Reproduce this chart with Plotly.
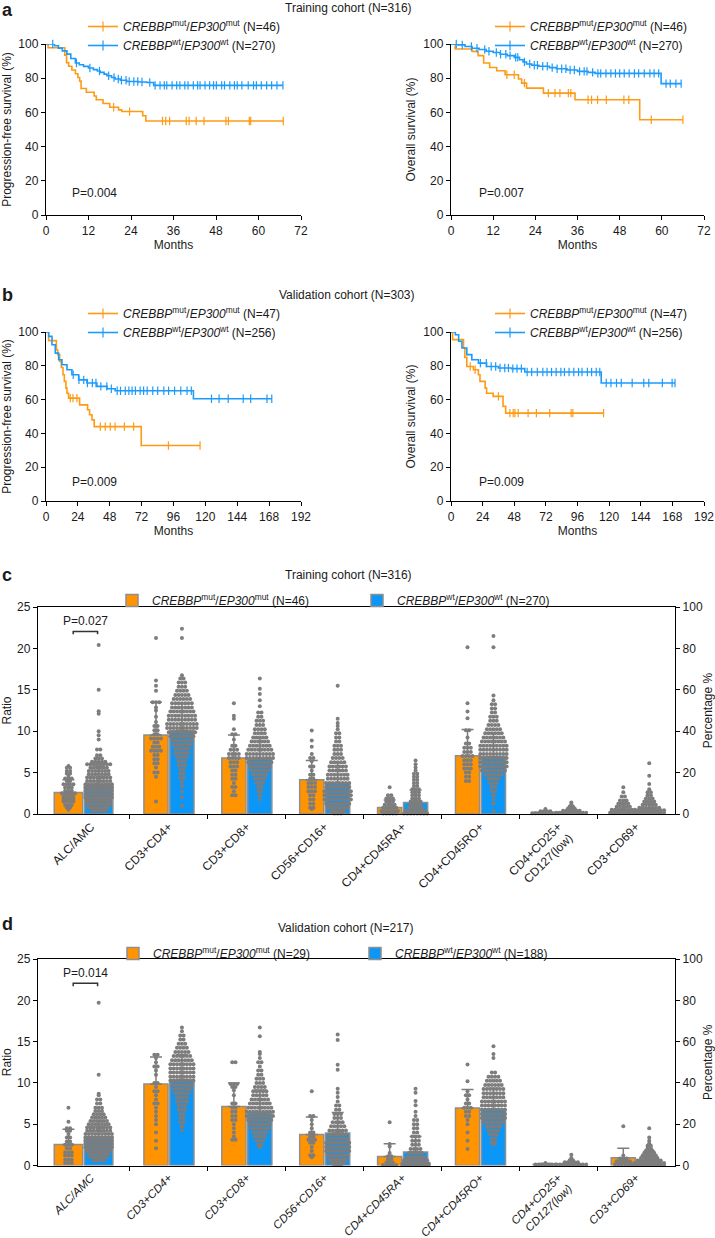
import plotly.graph_objects as go

W, H = 715, 1238
FONT = 'Liberation Sans, Arial, sans-serif'
INK = '#1a1a1a'
ORANGE = '#FF9A14'
BLUE = '#1C9BFB'
BAR_ORANGE = '#FF9300'
BAR_BLUE = '#0A97F7'
DOT = '#7d7d7d'
EDGE = '#8f8f8f'
UNIT = 77.9  # px per category on the bar panels


def px(x):
    return x / W


def py(y):
    return 1 - y / H


# ---------------- Kaplan-Meier data (months, % surviving) ----------------
month_ticks_a = [0, 12, 24, 36, 48, 60, 72]
month_ticks_b = [0, 24, 48, 72, 96, 120, 144, 168, 192]
surv_ticks = [0, 20, 40, 60, 80, 100]

# a, PFS training
a_pfs_mut_t = [0, 0.6, 5.3, 5.8, 6.4, 7.3, 8.3, 9.0, 9.5, 9.9, 11.4, 13.6, 14.2, 16.1, 18.0, 20.5, 21.4, 27.3, 28.2]
a_pfs_mut_s = [100, 97.8, 93.5, 89.1, 87.0, 84.8, 82.6, 80.4, 78.3, 74.0, 71.8, 69.6, 67.4, 65.2, 63.0, 61.5, 60.5, 58.0, 55.0]
a_pfs_mut_cens = [19.1, 23.6, 32.9, 33.8, 34.9, 39.6, 40.4, 42.4, 44.6, 50.8, 51.5, 57.4, 57.8, 67.0]
a_pfs_wt_t = [0, 2.4, 3.5, 4.6, 5.9, 7.0, 8.3, 9.4, 10.6, 12.0, 13.4, 14.5, 15.3, 16.4, 17.2, 18.5, 19.5, 21.0, 22.8, 26.0, 28.5, 30.4]
a_pfs_wt_s = [100, 99.0, 97.6, 96.0, 94.1, 91.5, 88.9, 87.9, 86.9, 86.0, 85.0, 84.2, 83.4, 82.4, 81.4, 80.4, 79.5, 78.8, 78.1, 77.8, 77.5, 75.8]
a_pfs_wt_cens = [1.9, 8.6, 12.4, 15.1, 17.7, 19.2, 20.4, 21.3, 22.6, 23.5, 24.8, 25.9, 27.1, 29.3, 30.8, 32.2,
                 33.4, 34.1, 35.6, 36.9, 37.8, 39.2, 40.1, 41.6, 42.8, 43.5, 44.9, 46.2, 47.3, 48.1, 49.6, 50.4,
                 51.9, 53.2, 54.0, 55.3, 57.1, 58.6, 59.4, 60.8, 62.3, 63.7, 65.2, 66.9]

# a, OS training
a_os_mut_t = [0, 1.2, 6.0, 7.7, 9.3, 11.0, 13.0, 15.4, 19.2, 20.1, 21.5, 26.3, 35.3, 53.7]
a_os_mut_s = [100, 97.1, 95.7, 93.2, 88.9, 86.3, 84.4, 82.0, 79.5, 77.1, 74.2, 71.3, 67.4, 55.7]
a_os_mut_cens = [15.9, 18.0, 20.9, 27.7, 29.6, 31.0, 33.4, 34.1, 39.0, 40.0, 41.7, 44.2, 49.2, 50.6, 57.0, 66.0]
a_os_wt_t = [0, 2, 4, 6, 8, 10, 12, 14, 16, 18, 19.5, 20.5, 21.5, 23, 25, 28, 30, 33, 36, 39, 41, 59.8]
a_os_wt_s = [100, 99.5, 98.5, 97.5, 96.8, 95.8, 95.0, 94.0, 93.2, 92.2, 90.8, 89.5, 88.3, 87.6, 87.0, 86.2,
             85.5, 84.8, 84.0, 83.4, 82.8, 76.8]
a_os_wt_cens = [1.5, 3.2, 5.8, 7.4, 9.6, 10.8, 12.9, 14.1, 15.6, 16.8, 18.4, 19.0, 20.9, 22.4, 23.7, 24.6,
                26.1, 27.4, 28.8, 30.2, 31.5, 32.7, 33.9, 35.1, 36.6, 37.9, 38.7, 40.3, 41.8, 42.6, 44.1,
                45.5, 46.8, 48.0, 49.3, 50.7, 52.2, 53.4, 55.0, 56.6, 57.8, 59.1, 61.2, 62.4, 64.0, 65.5]

# b, PFS validation
b_pfs_mut_t = [0, 2.0, 7.8, 8.8, 10.3, 11.5, 12.8, 13.8, 15.0, 15.8, 17.0, 25.3, 31.3, 32.8, 34.6, 36.3, 71.7]
b_pfs_mut_s = [100, 94.9, 89.5, 86.6, 82.6, 79.0, 74.7, 70.8, 66.8, 63.8, 60.9, 56.9, 54.0, 51.0, 48.0, 44.0, 32.8]
b_pfs_mut_cens = [18.3, 20.3, 23.3, 40.9, 44.6, 48.4, 52.0, 59.0, 66.0, 92.2, 116.0]
b_pfs_wt_t = [0, 2.0, 4.5, 7.0, 9.5, 12.0, 15.8, 19.5, 24.6, 30.8, 38.3, 45.9, 52.1, 111.0]
b_pfs_wt_s = [100, 97.4, 92.5, 87.5, 83.6, 80.6, 77.7, 74.7, 71.7, 69.8, 67.8, 66.4, 65.2, 60.5]
b_pfs_wt_cens = [20.5, 24.8, 28.4, 31.2, 34.9, 37.6, 41.3, 45.8, 49.2, 53.6, 56.1, 59.7, 62.4, 64.8, 67.3,
                 70.9, 73.5, 76.2, 80.4, 84.1, 88.7, 92.3, 96.8, 101.5, 106.2, 109.4, 124.6, 130.3, 137.2,
                 148.5, 154.1, 166.4, 170.0]

# b, OS validation
b_os_mut_t = [0, 1.2, 9.5, 10.5, 12.0, 17.0, 20.8, 22.0, 25.9, 27.0, 32.0, 39.5, 41.5]
b_os_mut_s = [100, 95.5, 90.5, 85.0, 79.6, 77.7, 74.7, 70.8, 66.8, 63.8, 61.9, 56.0, 52.0]
b_os_mut_cens = [14.6, 18.3, 36.0, 44.7, 47.2, 48.5, 51.0, 58.5, 64.8, 74.9, 91.2, 92.5, 115.8]
b_os_wt_t = [0, 3.3, 5.8, 8.3, 12.0, 15.8, 20.8, 27.0, 36.0, 46.0, 56.0, 114.0]
b_os_wt_s = [100, 98.4, 94.5, 90.5, 86.6, 83.6, 81.6, 79.6, 78.7, 78.3, 76.3, 69.8]
b_os_wt_cens = [22.3, 26.8, 30.5, 33.9, 37.2, 40.8, 43.6, 46.9, 50.1, 53.4, 57.8, 61.2, 65.5, 69.7, 72.9,
                76.3, 79.8, 83.4, 86.1, 89.6, 93.2, 96.8, 99.4, 103.5, 106.7, 110.2, 112.9, 117.8, 121.4,
                125.6, 129.2, 137.5, 146.3, 150.1, 160.4, 167.8, 170.0]

# ---------------- Bar panels (ALC/AMC in ratio, the rest in %) ----------------
cats = ['ALC/AMC', 'CD3+CD4+', 'CD3+CD8+', 'CD56+CD16+', 'CD4+CD45RA+', 'CD4+CD45RO+',
        'CD4+CD25+<br>CD127(low)', 'CD3+CD69+']
ratio_ticks = [0, 5, 10, 15, 20, 25]
pct_ticks = [0, 20, 40, 60, 80, 100]

c_mut_mean = [2.6, 38.2, 27.0, 16.6, 3.2, 28.2, 0.8, 1.6]
c_mut_sd = [1.55, 15.8, 11.2, 9.2, 3.6, 12.6, 0.6, 3.7]
c_wt_mean = [3.5, 40.3, 26.6, 14.8, 5.6, 27.7, 1.0, 1.9]
c_wt_sd = [2.3, 13.0, 10.0, 10.0, 6.0, 11.5, 1.2, 3.4]
d_mut_mean = [2.55, 39.5, 28.6, 15.0, 4.4, 27.8, 0.6, 3.7]
d_mut_sd = [1.85, 13.1, 11.4, 8.5, 6.1, 9.0, 0.4, 4.7]
d_wt_mean = [3.45, 41.6, 25.6, 15.7, 6.5, 27.4, 0.8, 2.8]
d_wt_sd = [2.0, 12.0, 11.0, 10.0, 7.5, 10.0, 1.0, 4.0]

# dot rows: level of each row and how many dots sit in it
c_mut_levels = [
    [5.8, 5.6, 5.2, 4.9, 4.6, 4.3, 4.0, 3.6, 3.2, 2.8, 2.5, 2.1, 1.8, 1.5, 1.1, 0.8, 0.5],
    [85, 64.5, 62, 59.5, 54, 51.5, 50, 47, 44.5, 42.5, 40.5, 38.5, 36.5, 34.5, 32.5, 30.5, 28.5, 26.5, 24.5, 22.5, 20, 18, 6],
    [53.5, 47.5, 46, 41, 38.5, 36, 33, 31, 29, 27, 25, 23, 21, 19, 17, 15, 13, 11, 9],
    [40.3, 35.5, 32.5, 29, 27, 25.5, 23, 21, 19, 17, 15, 13, 11, 9, 7, 5, 3, 2.4],
    [12.9, 9, 7.5, 6, 4.5, 3, 1.5, 0.3],
    [80.6, 53.5, 49.5, 46.3, 40.5, 37, 34, 32, 30, 28, 26, 24, 22, 20, 18, 16],
    [2.4, 1.3, 0.4],
    [12.9, 10.5, 8.5, 6.5, 5, 3.5, 2, 0.6]]
c_mut_counts = [
    [1, 2, 2, 2, 1, 3, 2, 4, 3, 3, 5, 4, 4, 4, 3, 2, 1],
    [1, 1, 1, 1, 3, 1, 1, 1, 1, 2, 2, 2, 4, 2, 3, 4, 2, 2, 2, 1, 2, 1, 1],
    [1, 1, 1, 1, 2, 1, 2, 3, 4, 4, 3, 3, 2, 2, 2, 1, 2, 1, 2],
    [1, 1, 1, 1, 2, 1, 2, 1, 2, 2, 3, 3, 3, 2, 2, 2, 2, 1],
    [1, 2, 3, 3, 4, 5, 6, 5],
    [1, 1, 1, 1, 2, 1, 2, 3, 3, 4, 3, 3, 3, 2, 2, 2],
    [1, 4, 9],
    [1, 1, 2, 3, 4, 5, 8, 9]]
c_wt_levels = [
    [20.4, 15.0, 12.4, 12.1, 10.0, 9.5, 9.0, 7.8, 7.1, 6.7, 6.3, 6.0, 5.6, 5.2, 4.8, 4.4, 4.0, 3.6, 3.2, 2.8, 2.4, 2.0, 1.6, 1.2, 0.8, 0.4],
    [89.5, 85, 67, 65.5, 63.5, 61.5, 59.5, 57.5, 55.5, 53.5, 51.5, 49.5, 47.5, 45.5, 43.5, 41.5, 39.5, 37.5, 35.5, 33.5, 31.5, 29.5, 27.5, 25.5, 23.5, 21.5, 19.5, 17.5, 15.5, 13.5, 11, 8, 4],
    [65.5, 60.5, 58, 55, 52, 49, 47, 45, 43, 41, 39, 37, 35, 33, 31, 29, 27, 25, 23, 21, 19, 17, 15, 13, 11, 9, 7],
    [62, 46, 44, 42.5, 41, 39, 37, 35, 33, 31, 29, 27, 25, 23, 21, 19, 17, 15, 13, 11, 9, 7, 5, 3, 1.5, 0.3],
    [25.8, 24, 22.5, 21, 19.5, 18, 16.5, 15, 13.5, 12, 10.5, 9, 7.5, 6, 4.5, 3, 1.5, 0.3],
    [86, 80.6, 57.3, 55, 53, 51, 49, 47, 45, 43, 41, 39, 37, 35, 33, 31, 29, 27, 25, 23, 21, 19, 17, 15, 13, 11, 9, 7, 5, 1.6],
    [5.6, 4.6, 3.6, 2.6, 1.6, 0.6],
    [24.5, 18.5, 14.5, 12, 10.5, 9, 7.5, 6, 4.5, 3, 1.8, 0.6]]
c_wt_counts = [
    [1, 1, 1, 1, 1, 1, 1, 2, 2, 3, 5, 8, 6, 7, 7, 8, 8, 9, 9, 9, 9, 9, 8, 8, 7, 5],
    [1, 1, 1, 2, 3, 3, 4, 5, 6, 7, 7, 8, 9, 9, 10, 10, 9, 8, 7, 6, 5, 5, 4, 3, 3, 2, 2, 2, 1, 1, 1, 1, 1],
    [1, 1, 1, 1, 1, 2, 2, 3, 3, 4, 4, 5, 6, 7, 8, 9, 9, 8, 7, 6, 5, 4, 3, 2, 2, 1, 1],
    [1, 1, 1, 1, 1, 2, 2, 2, 3, 3, 3, 4, 5, 6, 6, 7, 7, 8, 8, 9, 9, 9, 8, 7, 5, 3],
    [1, 1, 1, 1, 2, 2, 2, 2, 2, 3, 3, 3, 3, 4, 4, 5, 7, 8],
    [1, 1, 1, 1, 2, 2, 2, 3, 3, 4, 5, 6, 7, 8, 9, 9, 9, 9, 9, 9, 8, 6, 4, 3, 2, 2, 1, 1, 1, 1],
    [1, 1, 2, 3, 6, 10],
    [1, 1, 1, 1, 2, 2, 3, 4, 5, 7, 10, 10]]

d_mut_levels = [
    [7.0, 5.3, 4.5, 4.2, 3.8, 3.4, 2.9, 2.5, 2.1, 1.6, 1.2, 0.7, 0.3],
    [53.6, 52, 50, 48, 46, 44, 40, 38, 36, 34, 32, 30, 28, 26, 24, 22, 20, 16, 12, 8.4],
    [50, 39.5, 38, 36.5, 34, 30, 28, 26, 24, 22, 20, 18, 16, 14, 12.5],
    [36, 24, 22, 20, 18, 16, 14, 12.5, 11, 9, 7, 5, 4],
    [21, 10.4, 9.2, 6, 4.5, 3, 1.5, 0.3],
    [48.9, 40.8, 36, 34, 32, 30, 28, 26, 24, 22, 20, 16, 12, 8],
    [1.2, 0.5],
    [19, 4.8, 3.4, 2, 0.6]]
d_mut_counts = [
    [1, 1, 2, 2, 1, 2, 2, 3, 2, 3, 3, 3, 3],
    [2, 1, 1, 2, 1, 1, 2, 1, 2, 1, 1, 2, 1, 1, 1, 1, 1, 1, 1, 1],
    [2, 3, 2, 1, 1, 2, 2, 2, 2, 2, 1, 1, 1, 1, 2],
    [1, 2, 1, 1, 1, 2, 2, 3, 2, 1, 1, 2, 1],
    [1, 1, 1, 1, 2, 2, 3, 5],
    [1, 1, 1, 2, 1, 2, 3, 2, 2, 1, 1, 1, 1, 1],
    [1, 7],
    [1, 1, 3, 5, 6]]
d_wt_levels = [
    [19.7, 11.0, 8.7, 8.5, 8.0, 7.5, 7.0, 6.6, 6.2, 5.8, 5.4, 5.0, 4.6, 4.2, 3.8, 3.4, 3.0, 2.6, 2.2, 1.8, 1.4, 1.0, 0.6],
    [66.8, 65, 63, 61, 59, 57, 55, 53, 51, 49, 47, 45, 43, 41, 39, 37, 35, 33, 31, 29, 27, 25, 23, 21, 19, 17],
    [66.8, 62.6, 55, 54, 52, 50, 48, 46, 44, 42, 40, 38, 36, 34, 32, 30, 28, 26, 24, 22, 20, 18, 16, 14, 12, 10, 8.8],
    [63.4, 60.8, 48.8, 46.4, 37.2, 35.2, 33.2, 31, 29, 27, 25, 23, 21, 19, 17, 15, 13, 11, 9, 7, 5, 3, 1.5, 0.3],
    [37.2, 35.2, 31.2, 29.2, 26, 24, 22, 20, 18, 16, 14, 12, 10, 8, 6, 4, 2.5, 1, 0.2],
    [57.8, 54, 52, 45, 43, 41, 39, 37, 35, 33, 31, 29, 27, 25, 23, 21, 19, 17, 15, 13, 11, 10],
    [5.2, 3.6, 2.6, 1.6, 0.5],
    [18, 13.6, 12, 10.8, 9.6, 8.4, 7.2, 6, 4.8, 3.6, 2.4, 1.2, 0.3]]
d_wt_counts = [
    [1, 1, 1, 1, 2, 2, 3, 3, 4, 5, 6, 7, 8, 8, 9, 9, 9, 9, 9, 8, 7, 6, 4],
    [1, 1, 2, 2, 3, 4, 5, 6, 7, 8, 8, 8, 8, 8, 7, 6, 5, 4, 4, 3, 3, 2, 2, 2, 1, 1],
    [1, 1, 1, 1, 1, 2, 1, 2, 2, 3, 3, 4, 5, 5, 6, 7, 8, 9, 9, 8, 7, 6, 5, 4, 3, 2, 1],
    [1, 1, 1, 1, 1, 1, 1, 1, 2, 2, 3, 3, 4, 5, 6, 6, 7, 8, 8, 8, 7, 6, 5, 3],
    [1, 1, 1, 1, 1, 1, 2, 2, 2, 2, 3, 3, 3, 4, 5, 6, 8, 9, 9],
    [1, 1, 1, 2, 4, 5, 6, 7, 7, 7, 8, 8, 8, 8, 8, 7, 5, 4, 3, 2, 2, 1],
    [1, 1, 2, 5, 10],
    [1, 1, 1, 1, 2, 2, 3, 4, 5, 6, 8, 10, 10]]

MUT = '<i>CREBBP</i><sup>mut</sup>/<i>EP300</i><sup>mut</sup>'
WT = '<i>CREBBP</i><sup>wt</sup>/<i>EP300</i><sup>wt</sup>'

fig = go.Figure()


def surv_at(ts, ss, t):
    s = ss[0]
    for tt, v in zip(ts, ss):
        if tt <= t:
            s = v
    return s


def add_km(ts, ss, cens, color, xa, ya, name, legend):
    end = max(cens)
    fig.add_scatter(x=list(ts) + [end], y=list(ss) + [ss[-1]], mode='lines',
                    line=dict(color=color, width=1.6, shape='hv'), xaxis=xa, yaxis=ya,
                    showlegend=False, hoverinfo='skip', cliponaxis=False)
    fig.add_scatter(x=cens, y=[surv_at(ts, ss, c) for c in cens], mode='markers',
                    marker=dict(symbol='line-ns', size=6, line=dict(color=color, width=1.2)),
                    xaxis=xa, yaxis=ya, showlegend=False, hoverinfo='skip', cliponaxis=False)
    fig.add_scatter(x=[None], y=[None], mode='lines+markers', name=name, legend=legend,
                    line=dict(color=color, width=1.6),
                    marker=dict(symbol='line-ns', size=7, line=dict(color=color, width=1.2)),
                    xaxis=xa, yaxis=ya)


add_km(a_pfs_mut_t, a_pfs_mut_s, a_pfs_mut_cens, ORANGE, 'x', 'y', MUT + ' (N=46)', 'legend')
add_km(a_pfs_wt_t, a_pfs_wt_s, a_pfs_wt_cens, BLUE, 'x', 'y', WT + ' (N=270)', 'legend')
add_km(a_os_mut_t, a_os_mut_s, a_os_mut_cens, ORANGE, 'x2', 'y2', MUT + ' (N=46)', 'legend2')
add_km(a_os_wt_t, a_os_wt_s, a_os_wt_cens, BLUE, 'x2', 'y2', WT + ' (N=270)', 'legend2')
add_km(b_pfs_mut_t, b_pfs_mut_s, b_pfs_mut_cens, ORANGE, 'x3', 'y3', MUT + ' (N=47)', 'legend3')
add_km(b_pfs_wt_t, b_pfs_wt_s, b_pfs_wt_cens, BLUE, 'x3', 'y3', WT + ' (N=256)', 'legend3')
add_km(b_os_mut_t, b_os_mut_s, b_os_mut_cens, ORANGE, 'x4', 'y4', MUT + ' (N=47)', 'legend4')
add_km(b_os_wt_t, b_os_wt_s, b_os_wt_cens, BLUE, 'x4', 'y4', WT + ' (N=256)', 'legend4')


def swarm(levels, counts, xc, gap=3.3):
    xs, ys = [], []
    for lv, n in zip(levels, counts):
        for j in range(n):
            xs.append(xc + (j - (n - 1) / 2) * gap / UNIT)
            ys.append(lv)
    return xs, ys


def add_group(xa, yl, yr, means, sds, levels, counts, color, off_alc, off, w_alc, w, name, legend):
    xpos = [off_alc] + [i + off for i in range(1, 8)]
    edge = dict(color=EDGE, width=1.5)
    fig.add_bar(x=xpos[:1], y=means[:1], width=w_alc, marker=dict(color=color, line=edge),
                xaxis=xa, yaxis=yl, name=name, legend=legend, hoverinfo='skip')
    fig.add_bar(x=xpos[1:], y=means[1:], width=w, marker=dict(color=color, line=edge),
                xaxis=xa, yaxis=yr, showlegend=False, hoverinfo='skip')
    for i in range(8):
        xs, ys = swarm(levels[i], counts[i], xpos[i])
        fig.add_scatter(x=xs, y=ys, mode='markers', marker=dict(size=4, color=DOT),
                        xaxis=xa, yaxis=yl if i == 0 else yr, showlegend=False,
                        hoverinfo='skip', cliponaxis=False)
    err = dict(type='data', color=DOT, thickness=1.5, width=6)
    fig.add_scatter(x=xpos[:1], y=means[:1], mode='markers', marker=dict(size=1, color='rgba(0,0,0,0)'),
                    error_y=dict(array=sds[:1], arrayminus=[0], **err),
                    xaxis=xa, yaxis=yl, showlegend=False, hoverinfo='skip')
    fig.add_scatter(x=xpos[1:], y=means[1:], mode='markers', marker=dict(size=1, color='rgba(0,0,0,0)'),
                    error_y=dict(array=sds[1:], arrayminus=[0] * 7, **err),
                    xaxis=xa, yaxis=yr, showlegend=False, hoverinfo='skip')


add_group('x5', 'y5', 'y6', c_mut_mean, c_mut_sd, c_mut_levels, c_mut_counts, BAR_ORANGE,
          -0.288, -0.164, 0.365, 0.31, MUT + ' (N=46)', 'legend5')
add_group('x5', 'y5', 'y6', c_wt_mean, c_wt_sd, c_wt_levels, c_wt_counts, BAR_BLUE,
          0.10, 0.169, 0.365, 0.31, WT + ' (N=270)', 'legend6')
add_group('x7', 'y7', 'y8', d_mut_mean, d_mut_sd, d_mut_levels, d_mut_counts, BAR_ORANGE,
          -0.288, -0.164, 0.365, 0.31, MUT + ' (N=29)', 'legend7')
add_group('x7', 'y7', 'y8', d_wt_mean, d_wt_sd, d_wt_levels, d_wt_counts, BAR_BLUE,
          0.10, 0.169, 0.365, 0.31, WT + ' (N=188)', 'legend8')

line_style = dict(showline=True, linecolor='black', linewidth=1.4, ticks='outside', ticklen=4,
                  tickwidth=1.3, tickcolor='black', showgrid=False, zeroline=False, automargin=False,
                  tickfont=dict(size=12, color=INK))


def km_x(x0, x1, y_anchor, ticks):
    return dict(domain=[px(x0), px(x1)], anchor=y_anchor, range=[0, ticks[-1]], tickvals=ticks,
                title=dict(text='Months', standoff=3, font=dict(size=12, color=INK)), **line_style)


def km_y(y0, y1, x_anchor, title):
    return dict(domain=[py(y1), py(y0)], anchor=x_anchor, range=[0, 100], tickvals=surv_ticks,
                title=dict(text=title, standoff=5, font=dict(size=12, color=INK)), **line_style)


def bar_x(y0, y1, y_anchor, labels, size):
    d = dict(line_style)
    d.update(ticks='', mirror=True, tickfont=dict(size=size, color=INK))
    return dict(domain=[px(38), px(675)], anchor=y_anchor, range=[-0.679, 7.5],
                tickvals=list(range(8)), ticktext=labels, tickangle=-45,
                minor=dict(tickvals=[0.5, 1.5, 2.5, 3.5, 4.5, 5.5, 6.5], ticks='outside', ticklen=4,
                           tickwidth=1.3, tickcolor='black'), **d)


def bar_yl(y0, y1, x_anchor):
    return dict(domain=[py(y1), py(y0)], anchor=x_anchor, range=[0, 25], tickvals=ratio_ticks,
                title=dict(text='Ratio', standoff=6, font=dict(size=12, color=INK)), **line_style)


def bar_yr(overlay, x_anchor):
    return dict(overlaying=overlay, side='right', anchor=x_anchor, range=[0, 100], tickvals=pct_ticks,
                title=dict(text='Percentage %', standoff=1, font=dict(size=12, color=INK)), **line_style)


italic_cats = ['<i>' + c.replace('<br>', '</i><br><i>') + '</i>' for c in cats]

leg = dict(xanchor='left', yanchor='top', bgcolor='rgba(0,0,0,0)', font=dict(size=12, color=INK),
           tracegroupgap=0, itemclick=False)

annotations = []
for txt, x, y in [('Training cohort (N=316)', 348, 8), ('Validation cohort (N=303)', 347, 295),
                  ('Training cohort (N=316)', 348, 575), ('Validation cohort (N=217)', 346, 928)]:
    annotations.append(dict(text=txt, x=px(x), y=py(y), xref='paper', yref='paper', showarrow=False,
                            xanchor='center', yanchor='middle', font=dict(size=12, color=INK)))
for txt, y in [('a', 10), ('b', 295), ('c', 575), ('d', 924)]:
    annotations.append(dict(text='<b>%s</b>' % txt, x=0, y=py(y), xref='paper', yref='paper',
                            xanchor='left', yanchor='middle', showarrow=False, font=dict(size=18, color=INK)))
for txt, xa, ya, x, y in [('P=0.004', 'x', 'y', 6.9, 12.7), ('P=0.007', 'x2', 'y2', 7.4, 12.7),
                          ('P=0.009', 'x3', 'y3', 18.3, 11.4), ('P=0.009', 'x4', 'y4', 19.6, 11.4)]:
    annotations.append(dict(text=txt, x=x, y=y, xref=xa, yref=ya, xanchor='left', yanchor='middle',
                            showarrow=False, font=dict(size=12, color=INK)))
shapes = []
for txt, xa, ya in [('P=0.027', 'x5', 'y5'), ('P=0.014', 'x7', 'y7')]:
    annotations.append(dict(text=txt, x=-0.07, y=22.2, xref=xa, yref=ya, xanchor='center', yanchor='bottom',
                            showarrow=False, font=dict(size=12, color=INK)))
    shapes.append(dict(type='path', xref=xa, yref=ya, path='M -0.227,21.7 L -0.227,22.05 L 0.086,22.05 L 0.086,21.7',
                       line=dict(color='#333333', width=1.5)))

fig.update_layout(
    width=W, height=H, margin=dict(l=0, r=0, t=0, b=0), template='none',
    paper_bgcolor='white', plot_bgcolor='rgba(0,0,0,0)', barmode='overlay',
    font=dict(family=FONT, size=12, color=INK),
    xaxis=km_x(46, 301, 'y', month_ticks_a), yaxis=km_y(44, 215, 'x', 'Progression-free survival (%)'),
    xaxis2=km_x(451, 704, 'y2', month_ticks_a), yaxis2=km_y(44, 215, 'x2', 'Overall survival (%)'),
    xaxis3=km_x(46, 301, 'y3', month_ticks_b), yaxis3=km_y(332, 501, 'x3', 'Progression-free survival (%)'),
    xaxis4=km_x(451, 704, 'y4', month_ticks_b), yaxis4=km_y(332, 501, 'x4', 'Overall survival (%)'),
    xaxis5=bar_x(607, 814, 'y5', cats, 12), yaxis5=bar_yl(607, 814, 'x5'), yaxis6=bar_yr('y5', 'x5'),
    xaxis7=bar_x(959, 1165.5, 'y7', italic_cats, 11.5), yaxis7=bar_yl(959, 1165.5, 'x7'),
    yaxis8=bar_yr('y7', 'x7'),
    legend=dict(x=px(83), y=py(12), **leg),
    legend2=dict(x=px(490), y=py(12), **leg),
    legend3=dict(x=px(83), y=py(299), **leg),
    legend4=dict(x=px(490), y=py(299), **leg),
    legend5=dict(x=px(112), y=py(586), **leg),
    legend6=dict(x=px(357), y=py(586), **leg),
    legend7=dict(x=px(113), y=py(939), **leg),
    legend8=dict(x=px(355), y=py(939), **leg),
    annotations=annotations, shapes=shapes,
)

# the page's default body margin would push the fixed-size figure 8px off the window
fig.write_html('out.html', config={'displayModeBar': False},
               post_script="document.body.style.margin='0px';document.body.style.overflow='hidden';")
